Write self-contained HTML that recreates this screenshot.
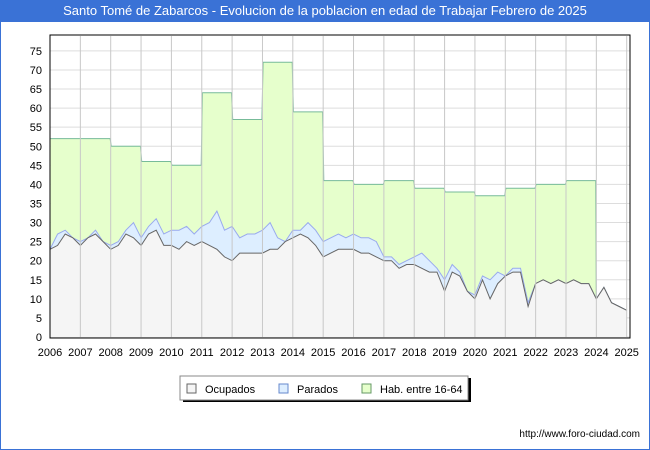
<!DOCTYPE html>
<html><head><meta charset="utf-8"><style>
body{margin:0;width:650px;height:450px;overflow:hidden;background:#fff;font-family:"Liberation Sans",sans-serif}
#wrap{position:absolute;left:0;top:0;width:648px;height:448px;border:1px solid #3a72d6;background:#fff}
#title{position:absolute;left:0;top:0;width:650px;height:22px;background:#3a72d6;color:#fff;font-size:13px;line-height:22px;text-align:center}
</style></head><body>
<div id="wrap"></div>
<div id="title">Santo Tomé de Zabarcos - Evolucion de la poblacion en edad de Trabajar Febrero de 2025</div>
<svg id="c" width="650" height="450" style="position:absolute;left:0;top:0"></svg>
<script>
const years=[2006,2007,2008,2009,2010,2011,2012,2013,2014,2015,2016,2017,2018,2019,2020,2021,2022,2023,2024,2025];
const yTicks=[0,5,10,15,20,25,30,35,40,45,50,55,60,65,70,75];
const habYear=[52,52,50,46,45,64,57,72,59,41,40,41,39,38,37,39,40,41];
const ocupados=[23,24,27,26,24,26,27,25,23,24,27,26,24,27,28,24,24,23,25,24,25,24,23,21,20,22,22,22,22,23,23,25,26,27,26,24,21,22,23,23,23,22,22,21,20,20,18,19,19,18,17,17,12,17,16,12,10,15,10,14,16,17,17,8,14,15,14,15,14,15,14,14,10,13,9,8,7];
const total=[23,27,28,26,25,26,28,25,24,25,28,30,26,29,31,27,28,28,29,27,29,30,33,28,29,26,27,27,28,30,26,25,28,28,30,28,25,26,27,26,27,26,26,25,21,21,19,20,21,22,20,18,15,19,17,12,11,16,15,17,16,18,18,9,14,15,14,15,14,15,14,14,10,13,9,8,7];
const X0=50,X1=626.7,Y0=337,U=3.815;
const xs=t=>X0+(t-2006)*(X1-X0)/19, ys=v=>Y0-v*U;
const svg=document.getElementById('c'),NS='http://www.w3.org/2000/svg';
function mk(tag,at,txt){const e=document.createElementNS(NS,tag);for(const k in at)e.setAttribute(k,at[k]);if(txt!=null)e.textContent=txt;svg.appendChild(e);return e;}
// grid
yTicks.forEach(v=>{const g=mk('line',{x1:50,x2:630,y1:ys(v),y2:ys(v),stroke:'#ddd'});

const l=mk('text',{x:42,y:ys(v)+4,'text-anchor':'end','font-size':11,fill:'#000'},v);
});
// hab points
const habPts=[];habYear.forEach((h,i)=>{habPts.push([years[i]+0.02,h]);habPts.push([years[i]+0.98,h]);});
const hab=[];for(let i=0;i<total.length;i++){const t=2006+i/4;const yi=Math.floor(t-2006);hab.push(yi<habYear.length?habYear[yi]:null);}
function area(pts,fill,stroke,name){
 const d='M'+pts.map(p=>xs(p[0]).toFixed(1)+','+ys(p[1]).toFixed(1)).join('L');
 const a=mk('path',{d:d+'L'+xs(pts[pts.length-1][0])+','+Y0+'L'+xs(pts[0][0])+','+Y0+'Z',fill:fill});
 
 const l=mk('path',{d:d,fill:'none',stroke:stroke,'stroke-width':1});
 }
const hp=habPts.slice();hp.push([2024,total[72]]);total.slice(72).forEach((v,j)=>hp.push([2024+j/4,v]));
area(hp,'#e6ffcc','#77bb99','hab');
area(total.map((v,i)=>[2006+i/4,v]),'#ddeeff','#99aaee','parados');
area(ocupados.map((v,i)=>[2006+i/4,v]),'#f5f5f5','#666','ocupados');
years.forEach(y=>{const g=mk('line',{x1:xs(y),x2:xs(y),y1:36,y2:337,stroke:'#c8c8c8'});

const l=mk('text',{x:xs(y),y:356,'text-anchor':'middle','font-size':11,fill:'#000'},y);
});
const b=mk('rect',{x:50,y:35,width:580,height:303,fill:'none',stroke:'#000'});

// legend
const lg=mk('rect',{x:183,y:378,width:288,height:24,fill:'#000'});

const lb=mk('rect',{x:180,y:376,width:288,height:24,fill:'#fff',stroke:'#888'});

[['Ocupados',187,'#f5f5f5','#666'],['Parados',279,'#ddeeff','#6688cc'],['Hab. entre 16-64',362,'#e6ffcc','#669966']].forEach(e=>{
 const s=mk('rect',{x:e[1],y:384,width:9,height:9,fill:e[2],stroke:e[3]});
 
 const t=mk('text',{x:e[1]+18,y:393,'font-size':11,fill:'#000'},e[0]);
 });
const f=mk('text',{x:640,y:437,'text-anchor':'end','font-size':10,fill:'#000'},'http://www.foro-ciudad.com');

</script>
</body></html>
